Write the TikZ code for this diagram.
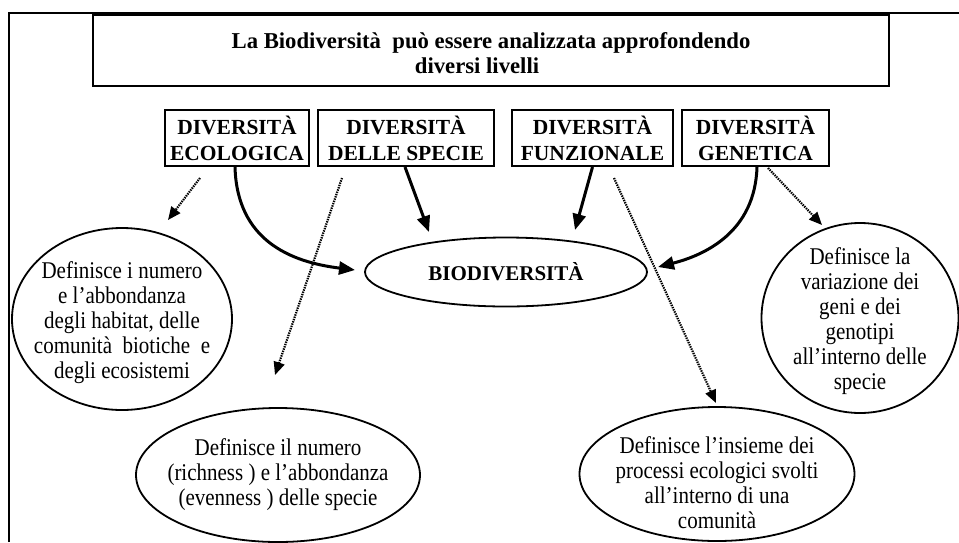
\documentclass[tikz,border=0pt]{standalone}
\usepackage{fontspec}
\setmainfont{Liberation Serif}
\newfontfamily\condfont{Liberation Serif}[FakeStretch=0.875]
\usetikzlibrary{arrows.meta,shapes.geometric}
\begin{document}
\begin{tikzpicture}[x=1pt,y=-1pt,
  txt/.style={font=\condfont\fontsize{24}{25}\selectfont, align=center, inner sep=0pt},
  boxtxt/.style={font=\bfseries\fontsize{21.5}{26}\selectfont, align=center},
  levelbox/.style={draw, line width=2pt, inner sep=0pt, minimum height=56pt, boxtxt},
  oval/.style={draw, ellipse, line width=1.8pt, inner sep=0pt},
  thickarrow/.style={line width=3pt, -{Triangle[length=16pt,width=13pt]}},
  dotarrow/.style={line width=2.2pt, dash pattern=on 1.4pt off 1.0pt, -{Triangle[length=13pt,width=11pt]}}
]
\useasboundingbox (0,0) rectangle (959,542);
% outer frame
\draw[line width=2pt] (9,542) -- (9,13) -- (959,13);
% title
\node[draw, line width=1.5pt, minimum width=796pt, minimum height=71pt, inner sep=0pt] (title) at (491,50.5) {};
\node[align=center, inner sep=0pt, font=\bfseries\fontsize{22.7}{25}\selectfont] (titletext) at ([yshift=-3pt]title.center)
  {La Biodiversità\ \ può essere analizzata approfondendo\\diversi livelli\hspace*{28pt}};
% level boxes
\node[levelbox, minimum width=144pt] (eco) at (237,138) {DIVERSITÀ\\ECOLOGICA};
\node[levelbox, minimum width=176pt] (spe) at (406,138) {DIVERSITÀ\\DELLE SPECIE};
\node[levelbox, minimum width=161pt] (fun) at (592.5,138) {DIVERSITÀ\\FUNZIONALE};
\node[levelbox, minimum width=147pt] (gen) at (755.5,138) {DIVERSITÀ\\GENETICA};
% central ellipse
\node[oval, minimum width=282pt, minimum height=69pt, font=\bfseries\fontsize{21}{24}\selectfont] (bio) at (506,272) {BIODIVERSITÀ};
% description ellipses
\node[oval, minimum width=220pt, minimum height=182pt] (e1) at (122,319) {};
\node[txt] (t1) at ([yshift=-4pt]e1.center) {Definisce i numero\\e l’abbondanza\\degli habitat, delle\\comunità\ \ biotiche\ \ e\\degli ecosistemi};
\node[oval, minimum width=284pt, minimum height=134pt] (e2) at (278,475) {};
\node[txt] (t2) at (e2.center) {Definisce il numero\\(richness ) e l’abbondanza\\(evenness ) delle specie};
\node[oval, minimum width=275pt, minimum height=134pt] (e3) at (717,474) {};
\node[txt] (t3) at ([yshift=-9pt]e3.center) {Definisce l’insieme dei\\processi ecologici svolti\\all’interno di una\\comunità};
\node[oval, minimum width=197pt, minimum height=190pt] (e4) at (860,318) {};
\node[txt] (t4) at ([yshift=-3.5pt]e4.center) {Definisce la\\variazione dei\\geni e dei\\genotipi\\all’interno delle\\specie};
% connector end points
\coordinate (s1) at (200,178); \coordinate (p1) at (168,220);
\coordinate (p2) at (355,270);
\coordinate (s3) at (342,178); \coordinate (p3) at (275,375);
\coordinate (p4) at (429,232);
\coordinate (p5) at (575,230);
\coordinate (s6) at (614,178); \coordinate (p6) at (716,403);
\coordinate (p7) at (658,267);
\coordinate (s8) at (768,168); \coordinate (p8) at (822,225);
% connectors
\draw[dotarrow] (s1) -- (p1);
\draw[thickarrow] ([xshift=-2pt]eco.south) .. controls (237,240) and (290,262) .. (p2);
\draw[dotarrow] (s3) -- (p3);
\draw[thickarrow] ([xshift=-1pt]spe.south) -- (p4);
\draw[thickarrow] (fun.south) -- (p5);
\draw[dotarrow] (s6) -- (p6);
\draw[thickarrow] ([xshift=1.5pt]gen.south) .. controls (755,232) and (705,255) .. (p7);
\draw[dotarrow] (s8) -- (p8);
\end{tikzpicture}
\end{document}
